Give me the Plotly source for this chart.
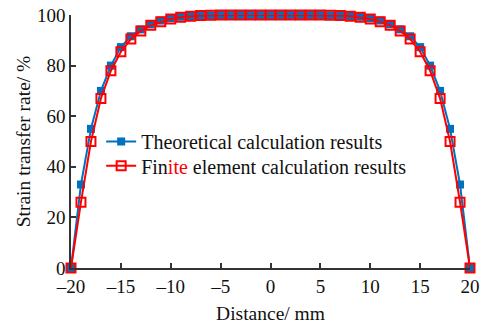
import plotly.graph_objects as go

distance = list(range(-20, 21))
theory_half = [0, 33, 55, 70, 80, 87.3, 91.6, 94.3, 96.3, 97.8, 98.7, 99.3, 99.6, 99.8, 99.9, 100, 100, 100, 100, 100]
fem_half = [0, 26, 50, 67, 78, 85.5, 90.5, 93.7, 95.9, 97.3, 98.4, 99.1, 99.5, 99.8, 99.9, 100, 100, 100, 100, 100]
theory = theory_half + [100] + theory_half[::-1]
fem = fem_half + [100] + fem_half[::-1]

x_ticks = [-20, -15, -10, -5, 0, 5, 10, 15, 20]
y_ticks = [0, 20, 40, 60, 80, 100]

BLUE = "#0070C0"
RED = "#FF0000"
FONT = "Liberation Serif"

fig = go.Figure()
fig.add_trace(go.Scatter(
    x=distance, y=theory, mode="lines+markers",
    name="Theoretical calculation results",
    line=dict(color=BLUE, width=2),
    marker=dict(symbol="square", size=8, color=BLUE),
    cliponaxis=False, legend="legend",
))
fig.add_trace(go.Scatter(
    x=distance, y=fem, mode="lines+markers",
    name="Fin<span style='color:#FF0000'>ite</span> element calculation results",
    line=dict(color=RED, width=2),
    marker=dict(symbol="square-open", size=9, color=RED, line=dict(width=2)),
    cliponaxis=False, legend="legend2",
))

legend_common = dict(xanchor="left", yanchor="middle", bgcolor="rgba(0,0,0,0)",
                     font=dict(family=FONT, size=20), itemsizing="trace")

fig.update_layout(
    width=482, height=325,
    margin=dict(l=71, r=12, t=15, b=57, autoexpand=False),
    paper_bgcolor="white", plot_bgcolor="white",
    font=dict(family=FONT, size=19, color="#111111"),
    showlegend=True,
    legend=dict(x=0.0756, y=0.500, **legend_common),
    legend2=dict(x=0.0756, y=0.404, **legend_common),
    xaxis=dict(range=[-20, 20], tickvals=x_ticks, ticktext=[f"\u2013{abs(v)}" if v < 0 else str(v) for v in x_ticks],
               ticks="inside", ticklen=5, tickwidth=1.5, tickcolor="#333333", automargin=False,
               tickfont=dict(size=19), ticklabeloverflow="allow",
               showline=True, linecolor="#333333", linewidth=1.5, showgrid=False, zeroline=False,
               title=dict(text="Distance/ mm", standoff=11, font=dict(size=19.5))),
    yaxis=dict(range=[0, 100], tickvals=y_ticks,
               ticks="inside", ticklen=5, tickwidth=1.5, tickcolor="#333333", automargin=False,
               tickfont=dict(size=19), ticklabeloverflow="allow",
               showline=True, linecolor="#333333", linewidth=1.5, showgrid=False, zeroline=False,
               title=dict(text="Strain transfer rate/ %", standoff=1, font=dict(size=19.5))),
)

fig.write_html(
    "out.html",
    config={"displayModeBar": False},
    post_script="document.body.style.margin='0';document.body.style.overflow='hidden';",
)
